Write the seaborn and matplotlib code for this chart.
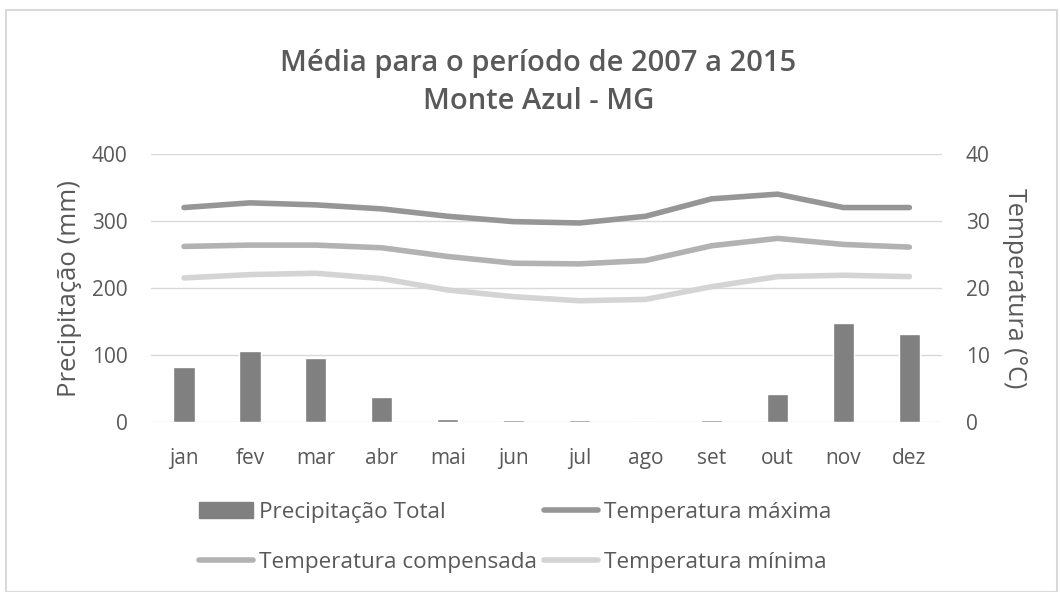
import numpy as np
import pandas as pd
import matplotlib
matplotlib.use('Agg')
import matplotlib.pyplot as plt
import seaborn as sns
from matplotlib.patches import Rectangle, Patch
from matplotlib.lines import Line2D

# dados
meses = ['jan', 'fev', 'mar', 'abr', 'mai', 'jun', 'jul', 'ago', 'set', 'out', 'nov', 'dez']
precipitacao = [82, 106, 96, 38, 5, 3, 3, 0, 3, 42, 148, 131]
temp_max = [32.0, 32.7, 32.4, 31.8, 30.7, 29.9, 29.7, 30.7, 33.3, 34.0, 32.0, 32.0]
temp_comp = [26.2, 26.4, 26.4, 26.0, 24.7, 23.7, 23.6, 24.1, 26.3, 27.4, 26.5, 26.1]
temp_min = [21.5, 22.0, 22.2, 21.4, 19.7, 18.7, 18.1, 18.3, 20.2, 21.7, 21.9, 21.7]

nomes = ['Temperatura máxima', 'Temperatura compensada', 'Temperatura mínima']
cores = ['#969696', '#b2b2b2', '#d4d4d4']
cor_barra = '#808080'
cor_texto = '#595959'

sns.set_theme(style='white')
plt.rcParams['font.family'] = ['Open Sans', 'DejaVu Sans']

df_barra = pd.DataFrame({'mes': meses, 'prec': precipitacao})
df_temp = pd.DataFrame({
    'pos': np.tile(np.arange(len(meses)), 3),
    'valor': temp_max + temp_comp + temp_min,
    'serie': np.repeat(nomes, len(meses)),
})

fig = plt.figure(figsize=(10.6, 5.92), dpi=100)
ax = fig.add_axes([0.1425, 0.287, 0.7465, 0.453])

# barras de precipitação
sns.barplot(data=df_barra, x='mes', y='prec', color=cor_barra, width=0.32,
            saturation=1, ax=ax, zorder=3)
ax.set_ylim(0, 400)
ax.set_yticks([0, 100, 200, 300, 400])
ax.grid(axis='y', color='#d9d9d9', linewidth=1, zorder=0)
ax.set_xlim(-0.5, 11.5)
for s in ax.spines.values():
    s.set_visible(False)
ax.tick_params(axis='y', colors=cor_texto, labelsize=15, length=0, pad=17)
ax.tick_params(axis='x', colors=cor_texto, labelsize=15, length=0, pad=19)
ax.set_xlabel('')
ax.set_ylabel('Precipitação (mm)', color=cor_texto, fontsize=18.5, labelpad=7)

# linhas de temperatura (eixo secundário)
ax2 = ax.twinx()
sns.lineplot(data=df_temp, x='pos', y='valor', hue='serie', hue_order=nomes,
             palette=cores, linewidth=4, ax=ax2, legend=False,
             solid_capstyle='round')
ax2.set_ylim(0, 40)
ax2.set_yticks([0, 10, 20, 30, 40])
ax2.set_xlim(-0.5, 11.5)
for s in ax2.spines.values():
    s.set_visible(False)
ax2.tick_params(axis='y', colors=cor_texto, labelsize=15, length=0, pad=17)
ax2.set_xlabel('')
ax2.set_ylabel('Temperatura (°C)', color=cor_texto, fontsize=18, rotation=-90,
               va='bottom', labelpad=9)

fig.text(0.508, 0.892, 'Média para o período de 2007 a 2015', ha='center', va='center',
         fontsize=21, fontweight='semibold', color=cor_texto)
fig.text(0.508, 0.828, 'Monte Azul - MG', ha='center', va='center',
         fontsize=21, fontweight='semibold', color=cor_texto)

handles = [Patch(color=cor_barra),
           Line2D([], [], color=cores[1], linewidth=4),
           Line2D([], [], color=cores[0], linewidth=4),
           Line2D([], [], color=cores[2], linewidth=4)]
labels = ['Precipitação Total', nomes[1], nomes[0], nomes[2]]
leg = fig.legend(handles, labels, ncol=2, loc='center', bbox_to_anchor=(0.486, 0.092),
                 frameon=False, fontsize=16.2, labelspacing=1.3, columnspacing=0.3,
                 handlelength=2.4, handletextpad=0.26, labelcolor=cor_texto)

# moldura do gráfico
fig.patches.append(Rectangle((0.006, 0.0), 0.991, 0.983, transform=fig.transFigure,
                             fill=False, edgecolor='#d9d9d9', linewidth=1.5))

fig.savefig('out.png', dpi=100)
